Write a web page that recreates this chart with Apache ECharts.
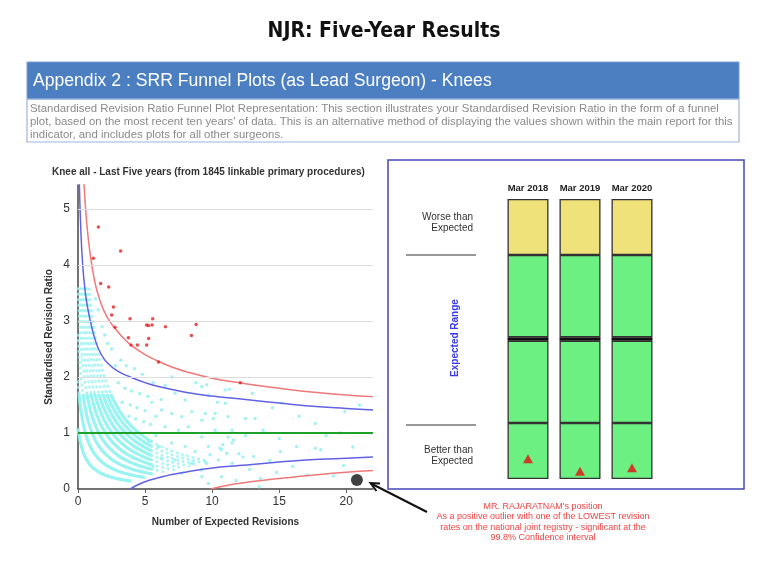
<!DOCTYPE html>
<html><head><meta charset="utf-8">
<script src="https://cdn.jsdelivr.net/npm/echarts@6/dist/echarts.min.js"></script>
<style>html,body{margin:0;padding:0;background:#fff}#c{width:768px;height:561px}</style>
</head><body><div id="c"></div>
<script>
// ---------- funnel plot data ----------
const xTicks = [0, 5, 10, 15, 20];
const yTicks = [0, 1, 2, 3, 4, 5];
const gridLevels = [2, 3, 4, 5];
const targetRatio = [[0, 1], [22, 1]];
const upper998 = [[0.45,5.45],[0.6,4.9],[0.8,4.4],[1.0,4.05],[1.3,3.65],[1.6,3.4],[2.0,3.15],[2.5,2.95],[3,2.8],[3.5,2.67],[4,2.56],[5,2.4],[6,2.28],[7,2.18],[8,2.1],[10,1.98],[12,1.9],[14,1.83],[16,1.77],[18,1.72],[20,1.68],[22,1.65]];
const upper95 = [[0.1,5.45],[0.2,4.7],[0.35,4.0],[0.55,3.5],[0.75,3.2],[0.95,2.97],[1.3,2.65],[1.7,2.42],[2.2,2.25],[3,2.1],[3.9,2.0],[5,1.9],[6,1.83],[8,1.73],[10,1.66],[12,1.61],[14,1.56],[16,1.51],[18,1.47],[20,1.44],[22,1.41]];
const lower95 = [[3.9,0],[4.5,0.08],[5,0.13],[6,0.2],[7,0.26],[8,0.3],[9.9,0.37],[12,0.42],[14,0.46],[16,0.5],[18,0.53],[20,0.55],[22,0.57]];
const lower998 = [[9.9,0],[11,0.06],[12,0.1],[14,0.16],[16,0.21],[18,0.26],[20,0.3],[22,0.33]];
// dense bands of other surgeons (solid parts)
const bandSolid = [
  [[0,1.083],[0.1,0.929],[0.2,0.813],[0.35,0.684],[0.5,0.591],[0.7,0.5],[1.0,0.406],[1.3,0.342],[1.6,0.295],[2.0,0.25],[2.5,0.21],[3.0,0.181],[3.5,0.159],[4.0,0.141]],
  [[0.08,1.691],[0.2,1.438],[0.35,1.211],[0.5,1.045],[0.7,0.885],[1.0,0.719],[1.3,0.605],[1.6,0.523],[2.0,0.442],[2.5,0.371],[3.0,0.319],[3.5,0.28],[4.0,0.25],[4.5,0.225],[5.0,0.205]],
  [[0.37,1.7],[0.5,1.5],[0.7,1.269],[1.0,1.031],[1.3,0.868],[1.6,0.75],[2.0,0.635],[2.5,0.532],[3.0,0.458],[3.5,0.402],[4.0,0.359],[4.5,0.324],[5.0,0.295],[5.5,0.27]],
  [[0.66,1.706],[0.8,1.536],[1.0,1.344],[1.3,1.132],[1.6,0.977],[2.0,0.827],[2.5,0.694],[3.0,0.597],[3.5,0.524],[4.0,0.467],[4.5,0.422],[5.0,0.384],[5.5,0.352]],
  [[0.96,1.699],[1.3,1.395],[1.6,1.205],[2.0,1.019],[2.5,0.855],[3.0,0.736],[3.5,0.646],[4.0,0.576],[4.5,0.52],[5.0,0.473],[5.5,0.434]],
  [[1.25,1.703],[1.6,1.432],[2.0,1.212],[2.5,1.016],[3.0,0.875],[3.5,0.768],[4.0,0.685],[4.5,0.618],[5.0,0.563],[5.5,0.516]],
  [[1.55,1.698],[2.0,1.404],[2.5,1.177],[3.0,1.014],[3.5,0.89],[4.0,0.793],[4.5,0.716],[5.0,0.652],[5.5,0.598]],
  [[1.84,1.7],[2.2,1.482],[2.6,1.297],[3.0,1.153],[3.5,1.012],[4.0,0.902],[4.5,0.814],[5.0,0.741],[5.5,0.68]],
  [[2.14,1.697],[2.5,1.5],[3.0,1.292],[3.5,1.134],[4.0,1.011],[4.5,0.912],[5.0,0.83],[5.5,0.762]],
  [[2.43,1.7],[3.0,1.431],[3.5,1.256],[4.0,1.12],[4.5,1.01],[5.0,0.92],[5.5,0.844]]
];
// dotted (sparser) parts of the same bands
const bandDotted = [
  [[0,1.917],[0.08,1.691]],
  [[0,2.75],[0.2,2.063],[0.37,1.7]],
  [[0,3.58],[0.2,2.688],[0.4,2.15],[0.66,1.706]],
  [[0.14,3.58],[0.3,2.944],[0.5,2.409],[0.7,2.038],[0.96,1.699]],
  [[0.28,3.58],[0.5,2.864],[0.7,2.423],[1.0,1.969],[1.25,1.703]],
  [[0.42,3.58],[0.6,3.042],[0.8,2.607],[1.0,2.281],[1.25,1.973],[1.55,1.698]],
  [[0.56,3.578],[0.8,2.964],[1.0,2.594],[1.3,2.184],[1.6,1.886],[1.84,1.7]],
  [[0.7,3.577],[1.0,2.906],[1.3,2.447],[1.6,2.114],[1.9,1.86],[2.14,1.697]],
  [[0.84,3.576],[1.1,3.029],[1.4,2.575],[1.7,2.239],[2.0,1.981],[2.43,1.7]],
  [[5.5,0.27],[5.8,0.258]],
  [[5.5,0.352],[6.0,0.326],[6.5,0.303]],
  [[5.5,0.434],[6.0,0.402],[6.5,0.373],[7.2,0.34]],
  [[5.5,0.516],[6.2,0.463],[7.0,0.414],[7.8,0.375]],
  [[5.5,0.598],[6.3,0.529],[7.2,0.468],[8.3,0.41]],
  [[5.5,0.68],[6.3,0.601],[7.2,0.532],[8.0,0.483],[8.8,0.441]],
  [[5.5,0.762],[6.3,0.674],[7.2,0.596],[8.2,0.528],[9.2,0.474]],
  [[5.5,0.844],[6.3,0.746],[7.2,0.66],[8.3,0.579],[9.5,0.51]]
];
const otherSurgeons = [
  [9.6,1.86],[11.3,1.78],[13.0,1.71],[11.0,1.53],[9.5,1.35],[10.1,1.26],[12.5,1.26],[13.2,1.26],[15.2,1.53],[17.7,1.17],[19.9,1.38],[21.0,1.5],
  [11.6,0.875],[10.8,0.79],[10.6,0.73],[11.1,0.64],[9.85,0.61],[12.3,0.57],[13.1,0.58],[14.3,0.51],[15.1,0.67],[16.3,0.76],[17.7,0.73],[18.1,0.7],
  [9.6,0.46],[9.2,0.34],[13.6,0.19],[13.5,0.04],[17.1,0.25],[19.05,0.23],
  [7.24,1.71],[7.99,1.59],[9.23,1.83],[9.73,1.68],[10.97,1.77],[6.24,1.41],[6.99,1.35],[7.74,1.29],[8.49,1.38],[9.23,1.23],[10.22,1.35],[11.2,1.29],
  [6.49,1.11],[7.49,1.05],[8.23,1.11],[9.23,0.93],[10.22,1.05],[11.2,0.93],[6.0,0.76],[6.99,0.82],[7.99,0.76],[8.73,0.67],[9.73,0.76],[10.7,0.7],[11.5,0.82],
  [7.24,0.52],[8.49,0.46],[9.48,0.49],[10.47,0.52],[11.5,0.46],[7.74,0.28],[9.23,0.22],[10.7,0.22],[9.73,0.1],
  [3.2,2.3],[3.6,2.2],[4.2,2.15],[4.8,2.05],[3.0,1.9],[3.5,1.8],[4.0,1.75],[4.6,1.7],[5.2,1.65],[5.6,1.9],[3.3,1.55],[3.9,1.5],[4.4,1.45],[5.0,1.4],[5.5,1.55],
  [3.8,1.3],[4.3,1.25],[4.9,1.2],[5.4,1.15],[2.5,2.5],[2.8,2.2],[2.2,2.6],[1.8,2.9],[1.5,3.2],[1.3,3.4],[2.0,2.75],[6.5,1.85],[7.0,2.0],[6.2,1.6],[5.8,1.3],
  [5.8,0.95],[5.3,0.85],[6.2,0.55],[5.6,0.4],[14.5,1.45],[16.5,1.3],[19.5,1.0],[18.5,0.95],[15.0,0.9],[13.8,1.05],[12.5,0.95],[20.5,0.75],[19.8,0.42],
  [16.0,0.4],[14.8,0.3],[12.8,0.35],[11.8,0.15],[12.0,0.63],[11.5,1.05],[10.4,1.55],[8.8,1.9]
];
const outlierSurgeons = [[1.52,4.68],[1.14,4.12],[3.18,4.25],[1.69,3.67],[2.29,3.61],[2.64,3.25],[2.51,3.11],[3.88,3.04],[2.76,2.89],[5.12,2.93],[5.25,2.92],[5.52,2.93],[5.57,3.04],[6.52,2.9],[8.81,2.94],[8.46,2.74],[3.76,2.7],[5.27,2.69],[3.95,2.57],[4.43,2.57],[5.12,2.57],[6.0,2.27],[12.1,1.9]];
const thisSurgeon = [[20.8, 0.16]];

// ---------- summary panel data ----------
const periods = ['Mar 2018', 'Mar 2019', 'Mar 2020'];
const bandBetter = [1, 1, 1];
const bandExpectedLow = [1.47, 1.47, 1.47];
const bandDivider = [0.06, 0.06, 0.06];
const bandExpectedHigh = [1.47, 1.47, 1.47];
const bandWorse = [1, 1, 1];
const surgeonPosition = [0.36, 0.14, 0.2];

const SANS = '"Liberation Sans", Arial, sans-serif';
const chart = echarts.init(document.getElementById('c'), null, {renderer: 'canvas'});

const solidSeries = bandSolid.map(d => ({
  type: 'line', data: d, smooth: true, symbol: 'none', silent: true, z: 1,
  lineStyle: {color: '#8ef2ee', width: 3.2, opacity: 0.9}
}));
const dottedSeries = bandDotted.map(d => ({
  type: 'line', data: d, smooth: true, symbol: 'none', silent: true, z: 1,
  lineStyle: {color: '#9af2f0', width: 2.8, type: [0.5, 5], cap: 'round', opacity: 0.8}
}));

function txt(x, y, text, font, fill, align, rot) {
  return {type: 'text', x: x, y: y, rotation: rot || 0, silent: true,
    style: {text: text, font: font, fill: fill, align: align || 'left', verticalAlign: 'middle',
            textAlign: align || 'left', textVerticalAlign: 'middle'}};
}

const option = {
  animation: false,
  backgroundColor: '#ffffff',
  title: [{
    text: 'Knee all - Last Five years (from 1845 linkable primary procedures)',
    left: 47, top: 162,
    textStyle: {fontFamily: SANS, fontSize: 10, fontWeight: 'bold', color: '#333'}
  }],
  grid: [
    {left: 78, top: 185, width: 295, height: 304},
    {left: 502, top: 199, width: 156, height: 280}
  ],
  xAxis: [
    {type: 'value', gridIndex: 0, min: 0, max: 22, interval: 5,
     name: 'Number of Expected Revisions', nameLocation: 'middle', nameGap: 28,
     nameTextStyle: {fontFamily: SANS, fontSize: 10, fontWeight: 'bold', color: '#333'},
     axisLine: {lineStyle: {color: '#444', width: 1.5}},
     axisTick: {show: true, length: 4, customValues: xTicks, lineStyle: {color: '#666'}},
     axisLabel: {customValues: xTicks, fontFamily: SANS, fontSize: 12, color: '#333', margin: 7},
     splitLine: {show: false}},
    {type: 'category', gridIndex: 1, data: periods, position: 'top',
     axisLine: {show: false}, axisTick: {show: false},
     axisLabel: {interval: 0, fontFamily: SANS, fontSize: 9.5, fontWeight: 'bold', color: '#222', margin: 6}}
  ],
  yAxis: [
    {type: 'value', gridIndex: 0, min: 0, max: 5.43, interval: 1,
     name: 'Standardised Revision Ratio', nameLocation: 'middle', nameGap: 24, nameRotate: 90,
     nameTextStyle: {fontFamily: SANS, fontSize: 10, fontWeight: 'bold', color: '#333'},
     axisLine: {show: true, lineStyle: {color: '#444', width: 1.5}},
     axisTick: {show: false},
     axisLabel: {customValues: yTicks, fontFamily: SANS, fontSize: 12, color: '#333', margin: 8},
     splitLine: {show: false}},
    {type: 'value', gridIndex: 1, min: 0, max: 5, show: false}
  ],
  series: [
    ...solidSeries,
    ...dottedSeries,
    {type: 'scatter', data: otherSurgeons, symbolSize: 3.5, silent: true, z: 2,
     itemStyle: {color: '#9cf0f0', opacity: 0.9},
     markLine: {silent: true, symbol: 'none', label: {show: false},
       lineStyle: {color: '#dddddd', width: 1, type: 'solid'},
       data: gridLevels.map(v => ({yAxis: v}))}},
    {type: 'line', data: upper998, smooth: true, symbol: 'none', z: 3, lineStyle: {color: '#f07878', width: 1.5}},
    {type: 'line', data: upper95, smooth: true, symbol: 'none', z: 3, lineStyle: {color: '#6262e6', width: 1.5}},
    {type: 'line', data: lower95, smooth: true, symbol: 'none', z: 3, lineStyle: {color: '#6262e6', width: 1.5}},
    {type: 'line', data: lower998, smooth: true, symbol: 'none', z: 3, lineStyle: {color: '#f07878', width: 1.5}},
    {type: 'line', data: targetRatio, symbol: 'none', z: 3, lineStyle: {color: '#1fa02a', width: 2.2}},
    {type: 'scatter', data: outlierSurgeons, symbolSize: 3.5, z: 4, itemStyle: {color: '#e32020'}},
    {type: 'scatter', data: thisSurgeon, symbolSize: 12, z: 5, itemStyle: {color: '#111'}},
    // summary panel
    {type: 'bar', xAxisIndex: 1, yAxisIndex: 1, stack: 'band', data: bandBetter, barWidth: 41,
     itemStyle: {color: '#6cf082', borderColor: '#333', borderWidth: 1.3}},
    {type: 'bar', xAxisIndex: 1, yAxisIndex: 1, stack: 'band', data: bandExpectedLow, barWidth: 41,
     itemStyle: {color: '#6cf082', borderColor: '#333', borderWidth: 1.3}},
    {type: 'bar', xAxisIndex: 1, yAxisIndex: 1, stack: 'band', data: bandDivider, barWidth: 41,
     itemStyle: {color: '#111', borderWidth: 0}},
    {type: 'bar', xAxisIndex: 1, yAxisIndex: 1, stack: 'band', data: bandExpectedHigh, barWidth: 41,
     itemStyle: {color: '#6cf082', borderColor: '#333', borderWidth: 1.3}},
    {type: 'bar', xAxisIndex: 1, yAxisIndex: 1, stack: 'band', data: bandWorse, barWidth: 41,
     itemStyle: {color: '#f0e27a', borderColor: '#333', borderWidth: 1.3}},
    {type: 'scatter', xAxisIndex: 1, yAxisIndex: 1, data: surgeonPosition, symbol: 'triangle', symbolSize: [10, 9], z: 5,
     itemStyle: {color: '#e41010'}}
  ],
  graphic: [
    txt(384, 32, 'NJR: Five-Year Results', '900 21px "Liberation Sans Narrow", "DejaVu Sans Condensed", ' + SANS, '#111', 'center'),
    {type: 'rect', shape: {x: 27, y: 62, width: 712, height: 37}, style: {fill: '#4b7fc2', stroke: '#7aa0d6', lineWidth: 1}, silent: true},
    txt(33, 81, 'Appendix 2 : SRR Funnel Plots (as Lead Surgeon) - Knees', '17.6px ' + SANS, '#ffffff', 'left'),
    {type: 'rect', shape: {x: 27, y: 99, width: 712, height: 43}, style: {fill: 'none', stroke: '#9db3d8', lineWidth: 1.2}, silent: true},
    txt(30, 109, 'Standardised Revision Ratio Funnel Plot Representation: This section illustrates your Standardised Revision Ratio in the form of a funnel', '11.4px ' + SANS, '#8a8a8a', 'left'),
    txt(30, 122, "plot, based on the most recent ten years' of data. This is an alternative method of displaying the values shown within the main report for this", '11.4px ' + SANS, '#8a8a8a', 'left'),
    txt(30, 134.5, 'indicator, and includes plots for all other surgeons.', '11.4px ' + SANS, '#8a8a8a', 'left'),
    {type: 'rect', shape: {x: 388, y: 160, width: 356, height: 329}, style: {fill: 'none', stroke: '#4545b8', lineWidth: 1.5}, silent: true},
    txt(473, 217, 'Worse than', '10px ' + SANS, '#333', 'right'),
    txt(473, 228, 'Expected', '10px ' + SANS, '#333', 'right'),
    {type: 'line', shape: {x1: 406, y1: 255, x2: 476, y2: 255}, style: {stroke: '#333', lineWidth: 1.2}, silent: true},
    txt(455, 338, 'Expected Range', 'bold 10px ' + SANS, '#3a3aee', 'center', Math.PI / 2),
    {type: 'line', shape: {x1: 406, y1: 425, x2: 476, y2: 425}, style: {stroke: '#333', lineWidth: 1.2}, silent: true},
    txt(473, 450, 'Better than', '10px ' + SANS, '#333', 'right'),
    txt(473, 461, 'Expected', '10px ' + SANS, '#333', 'right'),
    {type: 'line', shape: {x1: 427, y1: 512, x2: 372, y2: 484}, style: {stroke: '#111', lineWidth: 2}, silent: true},
    {type: 'polyline', shape: {points: [[380, 483.5], [370.5, 483], [376.5, 491]]}, style: {stroke: '#111', lineWidth: 2, fill: 'none'}, silent: true},
    txt(543, 507, "MR. RAJARATNAM's position", '9px ' + SANS, '#f04545', 'center'),
    txt(543, 517, 'As a positive outlier with one of the LOWEST revision', '9px ' + SANS, '#f04545', 'center'),
    txt(543, 527.5, 'rates on the national joint registry - significant at the', '9px ' + SANS, '#f04545', 'center'),
    txt(543, 538, '99.8% Confidence interval', '9px ' + SANS, '#f04545', 'center')
  ]
};
chart.setOption(option);
</script></body></html>
